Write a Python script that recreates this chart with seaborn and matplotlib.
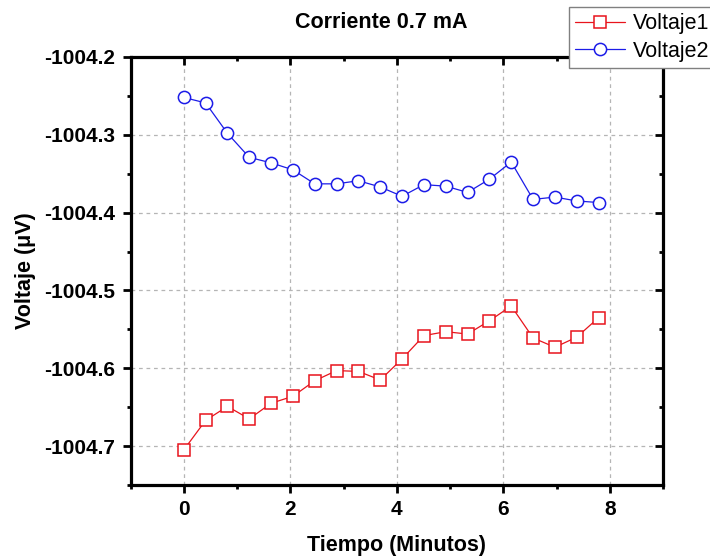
import numpy as np
import pandas as pd
import matplotlib
matplotlib.use('Agg')
import matplotlib.pyplot as plt
import seaborn as sns
from matplotlib.ticker import MultipleLocator

# Data
tiempo = [0.0, 0.41, 0.82, 1.23, 1.64, 2.05, 2.46, 2.87, 3.28, 3.69,
          4.10, 4.51, 4.92, 5.33, 5.74, 6.15, 6.56, 6.97, 7.38, 7.79]
voltaje1 = [-1004.705, -1004.667, -1004.649, -1004.665, -1004.645, -1004.636,
            -1004.616, -1004.603, -1004.604, -1004.615, -1004.588, -1004.558,
            -1004.553, -1004.556, -1004.539, -1004.520, -1004.561, -1004.573,
            -1004.560, -1004.535]
voltaje2 = [-1004.252, -1004.259, -1004.298, -1004.329, -1004.336, -1004.345,
            -1004.363, -1004.363, -1004.359, -1004.367, -1004.379, -1004.364,
            -1004.366, -1004.374, -1004.357, -1004.335, -1004.383, -1004.380,
            -1004.385, -1004.387]
x_ticks = [0, 2, 4, 6, 8]
y_ticks = [-1004.7, -1004.6, -1004.5, -1004.4, -1004.3, -1004.2]

sns.set_style('white')
plt.rcParams['font.family'] = ['Liberation Sans', 'DejaVu Sans']
plt.rcParams.update({'text.color': 'black', 'axes.labelcolor': 'black',
                     'xtick.color': 'black', 'ytick.color': 'black'})

df = pd.DataFrame({'Tiempo': tiempo, 'Voltaje1': voltaje1, 'Voltaje2': voltaje2})

fig = plt.figure(figsize=(7.1, 5.59), dpi=100)
ax = fig.add_axes([130.5/710, 1-485/559, (663-130.5)/710, (485-57)/559])

sns.lineplot(data=df, x='Tiempo', y='Voltaje1', ax=ax, color='#e8141c', lw=0.9,
             marker='s', ms=8.3, mfc='white', mec='#e8141c', mew=1.1, label='Voltaje1')
sns.lineplot(data=df, x='Tiempo', y='Voltaje2', ax=ax, color='#1c1ce8', lw=0.9,
             marker='o', ms=8.8, mfc='white', mec='#1c1ce8', mew=1.1, label='Voltaje2')

ax.set_xlim(-1, 9)
ax.set_ylim(-1004.75, -1004.2)
ax.set_xticks(x_ticks)
ax.set_yticks(y_ticks)
ax.set_yticklabels([f'{v:.1f}' for v in y_ticks])
ax.xaxis.set_minor_locator(MultipleLocator(1))
ax.yaxis.set_minor_locator(MultipleLocator(0.05))

ax.grid(True, which='major', ls=(0, (3, 3)), color='#b5b5b5', lw=0.9)
for s in ax.spines.values():
    s.set_linewidth(2.3)
    s.set_color('black')

ax.tick_params(which='major', length=6, width=2, color='black', labelsize=15, pad=5,
               labelcolor='black')
ax.tick_params(which='minor', length=3, width=2, color='black')
ax.tick_params(which='both', bottom=True, left=True, top=True, right=True,
               labeltop=False, labelright=False, direction='out')
# top / right ticks point inward
for t in ax.xaxis.get_major_ticks() + ax.xaxis.get_minor_ticks():
    t.tick2line.set_marker(3)  # TICKDOWN
for t in ax.yaxis.get_major_ticks() + ax.yaxis.get_minor_ticks():
    t.tick2line.set_marker(0)  # TICKLEFT
for lab in ax.get_xticklabels() + ax.get_yticklabels():
    lab.set_fontweight('bold')

ax.set_xlabel('Tiempo (Minutos)', fontsize=15.5, fontweight='bold', va='center', color='black')
ax.xaxis.set_label_coords(0.5, (485-546)/428)
ax.set_ylabel('Voltaje (μV)', fontsize=15.5, fontweight='bold', va='center', color='black')
ax.yaxis.set_label_coords((25-130.5)/532.5, 0.5)

fig.text(381/710, 1-23/559, 'Corriente 0.7 mA', ha='center', va='center',
         fontsize=15.5, fontweight='bold', color='black')

leg = ax.legend(loc='upper left', bbox_to_anchor=(569/710, 1-7/559),
                bbox_transform=fig.transFigure, borderaxespad=0, fontsize=15.5,
                frameon=True, fancybox=False, handlelength=2.3, handletextpad=0.35,
                borderpad=0.3, labelspacing=0.3)
for txt in leg.get_texts():
    txt.set_color('black')
leg.get_frame().set_edgecolor('#808080')
leg.get_frame().set_linewidth(1.0)
leg.get_frame().set_alpha(1)

fig.savefig('out.png', dpi=100)
